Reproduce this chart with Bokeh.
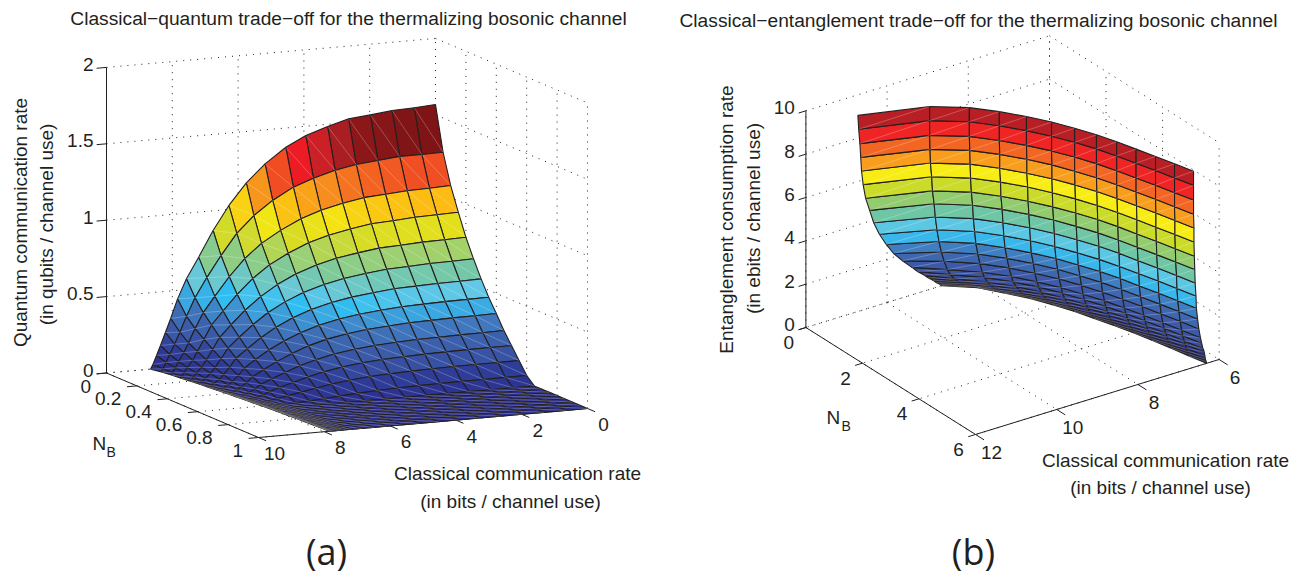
from bokeh.plotting import figure
from bokeh.layouts import row
from bokeh.models import Range1d
from bokeh.core.properties import value
from bokeh.embed import file_html
from bokeh.resources import INLINE
from math import pi

# ---------- panel (a) data ----------
a_title = "Classical\u2212quantum trade\u2212off for the thermalizing bosonic channel"
a_nb = [0, .05, .1, .15, .2, .25, .3, .35, .4, .45, .5, .55, .6, .65, .7, .75, .8, .85, .9, .95, 1]
a_c_rows = [
 [0,.645,1.32,1.98,2.64,3.28,3.94,4.55,5.18,5.75,6.28,6.76,7.20,7.57,7.84,8.05,8.21,8.36,8.48,8.59,8.66],
 [0,.645,1.32,1.98,2.64,3.28,3.94,4.55,5.18,5.75,6.27,6.75,7.18,7.54,7.80,8.00,8.16,8.31,8.42,8.515,8.56],
 [0,.645,1.32,1.98,2.64,3.28,3.94,4.55,5.17,5.75,6.26,6.73,7.17,7.52,7.77,7.97,8.11,8.27,8.37,8.46,8.49],
 [0,.645,1.32,1.98,2.64,3.28,3.94,4.55,5.17,5.74,6.25,6.72,7.15,7.50,7.73,7.93,8.07,8.24,8.33,8.405,8.43],
 [0,.645,1.32,1.98,2.64,3.28,3.94,4.54,5.17,5.73,6.24,6.71,7.14,7.48,7.70,7.89,8.03,8.19,8.28,8.345,8.37],
 [0,.645,1.32,1.98,2.64,3.28,3.94,4.54,5.17,5.73,6.24,6.70,7.12,7.46,7.67,7.86,7.99,8.15,8.24,8.30,8.32],
 [0,.645,1.32,1.98,2.64,3.28,3.93,4.54,5.16,5.72,6.23,6.69,7.11,7.45,7.64,7.83,7.95,8.12,8.20,8.26,8.28],
 [0,.645,1.32,1.98,2.64,3.28,3.93,4.54,5.16,5.72,6.22,6.68,7.09,7.43,7.61,7.79,7.92,8.08,8.15,8.21,8.23],
 [0,.645,1.32,1.98,2.64,3.27,3.93,4.53,5.16,5.71,6.21,6.67,7.08,7.41,7.59,7.76,7.88,8.04,8.12,8.17,8.19],
 [0,.645,1.32,1.98,2.64,3.27,3.93,4.53,5.16,5.71,6.20,6.65,7.06,7.39,7.57,7.74,7.85,8.00,8.08,8.13,8.15],
 [0,.645,1.32,1.98,2.64,3.27,3.93,4.53,5.15,5.70,6.19,6.64,7.05,7.37,7.54,7.71,7.82,7.96,8.04,8.09,8.11],
 [0,.645,1.32,1.98,2.64,3.27,3.93,4.53,5.15,5.70,6.18,6.62,7.03,7.35,7.52,7.68,7.79,7.93,8.01,8.06,8.08],
 [0,.645,1.32,1.98,2.64,3.27,3.93,4.53,5.15,5.69,6.17,6.61,7.02,7.33,7.49,7.65,7.76,7.90,7.97,8.02,8.04],
 [0,.645,1.32,1.98,2.64,3.27,3.93,4.53,5.14,5.69,6.16,6.60,7.00,7.31,7.47,7.63,7.73,7.87,7.94,7.98,8.00],
 [0,.645,1.32,1.98,2.64,3.27,3.93,4.53,5.14,5.69,6.15,6.59,6.98,7.29,7.45,7.60,7.70,7.85,7.91,7.96,7.98],
 [0,.645,1.32,1.98,2.64,3.27,3.93,4.53,5.14,5.68,6.14,6.58,6.97,7.27,7.43,7.58,7.67,7.82,7.88,7.93,7.95],
 [0,.645,1.32,1.98,2.64,3.27,3.93,4.53,5.14,5.68,6.14,6.56,6.95,7.25,7.41,7.55,7.65,7.79,7.85,7.90,7.92],
 [0,.645,1.32,1.98,2.64,3.27,3.93,4.53,5.14,5.67,6.13,6.55,6.93,7.23,7.39,7.53,7.62,7.77,7.83,7.88,7.90],
 [0,.645,1.32,1.98,2.64,3.27,3.93,4.53,5.13,5.67,6.12,6.54,6.92,7.21,7.37,7.51,7.60,7.75,7.81,7.86,7.88],
 [0,.645,1.32,1.98,2.64,3.27,3.93,4.53,5.13,5.66,6.11,6.53,6.90,7.19,7.36,7.50,7.58,7.74,7.80,7.84,7.86],
 [0,.645,1.32,1.98,2.64,3.27,3.93,4.53,5.13,5.66,6.10,6.50,6.88,7.17,7.35,7.49,7.57,7.72,7.78,7.82,7.84],
]
a_q_rows = [
 [1.567,1.558,1.553,1.537,1.524,1.486,1.439,1.374,1.277,1.164,1.026,.871,.705,.571,.444,.32,.231,.149,.086,.029,0],
 [1.276,1.274,1.274,1.26,1.246,1.22,1.181,1.134,1.059,.971,.864,.728,.592,.467,.35,.25,.175,.11,.06,.02,0],
 [1.079,1.074,1.07,1.06,1.05,1.025,.992,.948,.884,.81,.72,.61,.49,.39,.29,.2,.14,.085,.045,.014,0],
 [.926,.921,.918,.908,.90,.878,.85,.812,.755,.69,.61,.515,.415,.33,.24,.165,.11,.065,.034,.01,0],
 [.783,.779,.776,.768,.762,.743,.72,.687,.64,.582,.513,.433,.345,.27,.195,.13,.085,.05,.025,.007,0],
 [.663,.659,.657,.65,.645,.629,.609,.581,.54,.49,.43,.36,.285,.22,.155,.1,.065,.035,.017,.004,0],
 [.553,.55,.548,.543,.538,.524,.508,.485,.45,.407,.355,.295,.23,.175,.12,.075,.045,.024,.01,.002,0],
 [.454,.452,.45,.446,.442,.431,.417,.398,.368,.33,.285,.235,.18,.13,.085,.05,.03,.014,.005,0,0],
 [.368,.366,.365,.361,.358,.349,.338,.322,.297,.265,.225,.18,.135,.095,.06,.035,.018,.008,.002,0,0],
 [.278,.276,.275,.272,.27,.263,.255,.242,.222,.195,.165,.13,.095,.065,.04,.02,.01,.004,0,0,0],
 [.201,.2,.199,.197,.195,.19,.184,.174,.158,.137,.113,.085,.06,.038,.02,.01,.004,0,0,0,0],
 [.124,.123,.123,.122,.12,.117,.112,.105,.093,.078,.06,.043,.027,.015,.006,.002,0,0,0,0,0],
 [.047,.047,.046,.046,.045,.043,.04,.035,.028,.02,.012,.005,.001,0,0,0,0,0,0,0,0],
 [0]*21,[0]*21,[0]*21,[0]*21,[0]*21,[0]*21,[0]*21,[0]*21,
]
a_z_ticks = [0, .5, 1, 1.5, 2]
a_z_labels = ["0", "0.5", "1", "1.5", "2"]
a_nb_ticks = [0, .2, .4, .6, .8, 1]
a_nb_labels = ["0", "0.2", "0.4", "0.6", "0.8", "1"]
a_c_ticks = [0, 2, 4, 6, 8, 10]
a_c_labels = ["0", "2", "4", "6", "8", "10"]

# ---------- panel (b) data ----------
b_title = "Classical\u2212entanglement trade\u2212off for the thermalizing bosonic channel"
b_nb = [0, .5, 1, 1.5, 2, 2.5, 3, 3.5, 4, 4.5, 5, 5.5, 6]
b_e_levels = [9.05,8.4,7.72,7.07,6.43,5.78,5.12,4.5,3.87,3.26,2.69,2.17,1.7,1.27,1.0,.74,.56,.37,.22,.09,0]
b_c_rows = [
 [10.72,10.70,10.67,10.65,10.63,10.59,10.53,10.43,10.33,10.19,10.02,9.84,9.62,9.39,9.25,9.09,8.99,8.87,8.79,8.70,8.66],
 [9.30,9.30,9.30,9.29,9.28,9.25,9.23,9.19,9.16,9.12,9.07,9.01,8.94,8.86,8.79,8.68,8.59,8.44,8.32,8.19,8.11],
 [8.67,8.67,8.67,8.66,8.65,8.64,8.62,8.59,8.57,8.54,8.51,8.46,8.41,8.35,8.30,8.22,8.15,8.05,7.97,7.88,7.82],
 [8.28,8.28,8.28,8.27,8.27,8.25,8.24,8.21,8.19,8.17,8.14,8.09,8.04,7.98,7.94,7.86,7.80,7.73,7.65,7.58,7.53],
 [7.96,7.96,7.96,7.95,7.95,7.93,7.92,7.90,7.88,7.86,7.84,7.79,7.75,7.70,7.65,7.60,7.54,7.47,7.42,7.36,7.32],
 [7.69,7.69,7.69,7.68,7.68,7.67,7.66,7.64,7.62,7.61,7.58,7.54,7.50,7.45,7.42,7.37,7.32,7.27,7.22,7.17,7.14],
 [7.47,7.47,7.47,7.47,7.46,7.45,7.44,7.43,7.41,7.40,7.38,7.34,7.30,7.26,7.23,7.18,7.14,7.10,7.06,7.01,6.99],
 [7.28,7.28,7.28,7.28,7.27,7.26,7.25,7.24,7.22,7.21,7.19,7.16,7.13,7.08,7.05,7.01,6.97,6.94,6.90,6.87,6.85],
 [7.13,7.13,7.13,7.13,7.12,7.11,7.10,7.09,7.07,7.06,7.04,7.01,6.98,6.94,6.90,6.86,6.83,6.80,6.77,6.74,6.72],
 [7.00,7.00,7.00,7.00,6.99,6.98,6.98,6.97,6.95,6.93,6.92,6.89,6.85,6.81,6.78,6.74,6.71,6.68,6.65,6.63,6.61],
 [6.87,6.87,6.87,6.87,6.86,6.86,6.85,6.84,6.82,6.80,6.79,6.76,6.73,6.69,6.66,6.61,6.59,6.56,6.54,6.51,6.50],
 [6.75,6.75,6.75,6.75,6.74,6.74,6.73,6.72,6.70,6.69,6.67,6.64,6.61,6.57,6.55,6.51,6.48,6.46,6.44,6.42,6.41],
 [6.63,6.63,6.63,6.63,6.62,6.62,6.61,6.60,6.59,6.57,6.56,6.53,6.50,6.46,6.43,6.40,6.37,6.35,6.34,6.32,6.31],
]
b_z_ticks = [0, 2, 4, 6, 8, 10]
b_z_labels = ["0", "2", "4", "6", "8", "10"]
b_nb_ticks = [0, 2, 4, 6]
b_nb_labels = ["0", "2", "4", "6"]
b_c_ticks = [6, 8, 10, 12]
b_c_labels = ["6", "8", "10", "12"]

# colour ramps (height -> colour)
a_stops = [(0,"#2b2f8f"),(.124,"#2e3e98"),(.2,"#3853a3"),(.278,"#3b60ac"),(.368,"#4078be"),(.454,"#3aace4"),(.49,"#30bef2"),
           (.553,"#64c8e4"),(.663,"#76c8a5"),(.783,"#a5d268"),(.88,"#d8dc24"),(.94,"#e8e01a"),(.98,"#f4e813"),(1.079,"#fdb913"),
           (1.17,"#f7941d"),(1.276,"#f04e23"),(1.374,"#ed1c24"),(1.44,"#cc2027"),(1.486,"#a91e23"),(1.524,"#8b1719"),(1.56,"#7d1416")]
b_stops = [(0,"#1c1c40"),(.22,"#262a70"),(.56,"#2e3b96"),(.74,"#33459c"),(1.27,"#3a55a5"),(1.7,"#3c5aa8"),(2.17,"#3d68b0"),(2.69,"#3f7fc1"),
           (3.26,"#3ab7ea"),(3.87,"#5cc7e2"),(4.5,"#6fc6a5"),(5.12,"#92cc6e"),(5.78,"#cbdb2a"),(6.43,"#f7ec13"),(7.07,"#f99d1c"),
           (7.72,"#f26522"),(8.4,"#ee2524"),(9.05,"#b81f24")]

def ramp(stops, v):
    if v <= stops[0][0]:
        return stops[0][1]
    for (v0, c0), (v1, c1) in zip(stops, stops[1:]):
        if v <= v1:
            t = (v - v0) / (v1 - v0)
            a = [int(c0[k:k+2], 16) for k in (1, 3, 5)]
            b = [int(c1[k:k+2], 16) for k in (1, 3, 5)]
            return "#%02x%02x%02x" % tuple(round(p + t * (q - p)) for p, q in zip(a, b))
    return stops[-1][1]

INK = "#231f20"
SANS = "Liberation Sans"

def txt(p, x, y, s, size, align="center", angle=0, font=SANS):
    p.text(x=[x], y=[y], text=[s], text_font=value(font), text_font_size=size, text_align=align,
           text_baseline="middle", text_color=INK, angle=angle)

def panel(xr, width, proj, nb, c_rows, z_rows, stops, color_next, order_j,
          z_ticks, nb_ticks, c_ticks, c_back, c_front, nb_lo, nb_hi, z_hi):
    p = figure(width=width, height=576, x_range=Range1d(*xr), y_range=Range1d(576, 0),
               output_backend="svg", toolbar_location=None, min_border=0, outline_line_color=None)
    p.axis.visible = False
    p.grid.visible = False
    gx, gy = [], []
    def seg(a, b):
        A, B = proj(*a), proj(*b)
        gx.append([A[0], B[0]]); gy.append([A[1], B[1]])
    for z in z_ticks:
        seg((c_front, nb_lo, z), (c_back, nb_lo, z))
        seg((c_back, nb_lo, z), (c_back, nb_hi, z))
    for c in c_ticks:
        seg((c, nb_lo, 0), (c, nb_lo, z_hi))
        if c != c_back:
            seg((c, nb_lo, 0), (c, nb_hi, 0))
    for n in nb_ticks:
        seg((c_back, n, 0), (c_back, n, z_hi))
        seg((c_back, n, 0), (c_front, n, 0))
    p.multi_line(gx, gy, line_color=INK, line_width=1, line_dash="1 6")
    ax, ay = [], []
    def aseg(a, b):
        A, B = proj(*a), proj(*b)
        ax.append([A[0], B[0]]); ay.append([A[1], B[1]])
    aseg((c_front, nb_lo, 0), (c_front, nb_lo, z_hi))
    aseg((c_front, nb_lo, 0), (c_front, nb_hi, 0))
    aseg((c_front, nb_hi, 0), (c_back, nb_hi, 0))
    dc = (c_front - c_back) * 0.03
    dn = (nb_hi - nb_lo) * 0.05
    for z in z_ticks:
        aseg((c_front, nb_lo, z), (c_front + dc, nb_lo, z))
    for n in nb_ticks:
        aseg((c_front, n, 0), (c_front + dc, n, 0))
    for c in c_ticks:
        aseg((c, nb_hi, 0), (c, nb_hi + dn, 0))
    p.multi_line(ax, ay, line_color=INK, line_width=1)
    fx, fy, fc, dx, dy = [], [], [], [], []
    for i in range(len(nb) - 1):
        for j in order_j:
            q = [(i, j), (i, j + 1), (i + 1, j + 1), (i + 1, j)]
            pts = [proj(c_rows[a][b], nb[a], z_rows[a][b]) for a, b in q]
            fx.append([t[0] for t in pts]); fy.append([t[1] for t in pts])
            v = z_rows[i][j + 1] if color_next else z_rows[i][j]
            fc.append(ramp(stops, v))
            dx.append([pts[1][0], pts[3][0]]); dy.append([pts[1][1], pts[3][1]])
    p.patches(fx, fy, fill_color=fc, line_color=INK, line_width=1.1)
    p.multi_line(dx, dy, line_color="white", line_width=0.6, line_alpha=0.4)
    return p

# ---------- panel (a) ----------
def proj_a(c, n, q):
    u = 10 - c
    return 106 + 152 * n + 32.9 * u, 372.5 + 64.5 * n - 2.9 * u - 152.8 * q

pa = panel((0, 650), 650, proj_a, a_nb, a_c_rows, a_q_rows, a_stops, True, list(range(20)),
           a_z_ticks, a_nb_ticks, a_c_ticks, 0, 10, 0, 1, 2)
txt(pa, 348, 18, a_title, "19.2px")
for z, s in zip(a_z_ticks, a_z_labels):
    x, y = proj_a(10, 0, z)
    txt(pa, x - 13, y - 3, s, "19px", "right")
for n, s in zip(a_nb_ticks, a_nb_labels):
    x, y = proj_a(10, n, 0)
    txt(pa, x - 15.5, y + 13, s, "19px", "right")
for c, s in zip(a_c_ticks, a_c_labels):
    x, y = proj_a(c, 1, 0)
    txt(pa, x + 16, y + 16, s, "19px")
txt(pa, 20, 222, "Quantum communication rate", "19px", angle=pi / 2)
txt(pa, 46, 224, "(in qubits / channel use)", "19px", angle=pi / 2)
txt(pa, 92, 443, "N", "19px", "left")
txt(pa, 106, 451, "B", "14px", "left")
txt(pa, 517, 473, "Classical communication rate", "19px")
txt(pa, 510, 501, "(in bits / channel use)", "19px")
txt(pa, 326, 551, "(a)", "36px", font="Open Sans")

# ---------- panel (b) ----------
def proj_b(c, n, e):
    u = 12 - c
    return 805.4 + 28.27 * n + 40.6 * u, 327 + 17.83 * n - 12.5 * u - 21.67 * e

b_e_rows = [b_e_levels for _ in b_nb]
pb = panel((650, 1299), 649, proj_b, b_nb, b_c_rows, b_e_rows, b_stops, False, list(range(19, -1, -1)),
           b_z_ticks, b_nb_ticks, b_c_ticks, 6, 12, 0, 6, 10)
txt(pb, 978, 20, b_title, "19.2px")
for z, s in zip(b_z_ticks, b_z_labels):
    x, y = proj_b(12, 0, z)
    txt(pb, x - 11, y - 3, s, "19px", "right")
for n, s in zip(b_nb_ticks, b_nb_labels):
    x, y = proj_b(12, n, 0)
    txt(pb, x - 17, y + 15, s, "19px")
for c, s in zip(b_c_ticks, b_c_labels):
    x, y = proj_b(c, 6, 0)
    txt(pb, x + 16, y + 18, s, "19px")
txt(pb, 726, 219, "Entanglement consumption rate", "19px", angle=pi / 2)
txt(pb, 753, 218, "(in ebits / channel use)", "19px", angle=pi / 2)
txt(pb, 826, 417, "N", "19px", "left")
txt(pb, 841, 425, "B", "14px", "left")
txt(pb, 1165, 460, "Classical communication rate", "19px")
txt(pb, 1160, 487, "(in bits / channel use)", "19px")
txt(pb, 973, 551, "(b)", "36px", font="Open Sans")

open("out.html", "w").write(file_html(row(pa, pb), INLINE))
